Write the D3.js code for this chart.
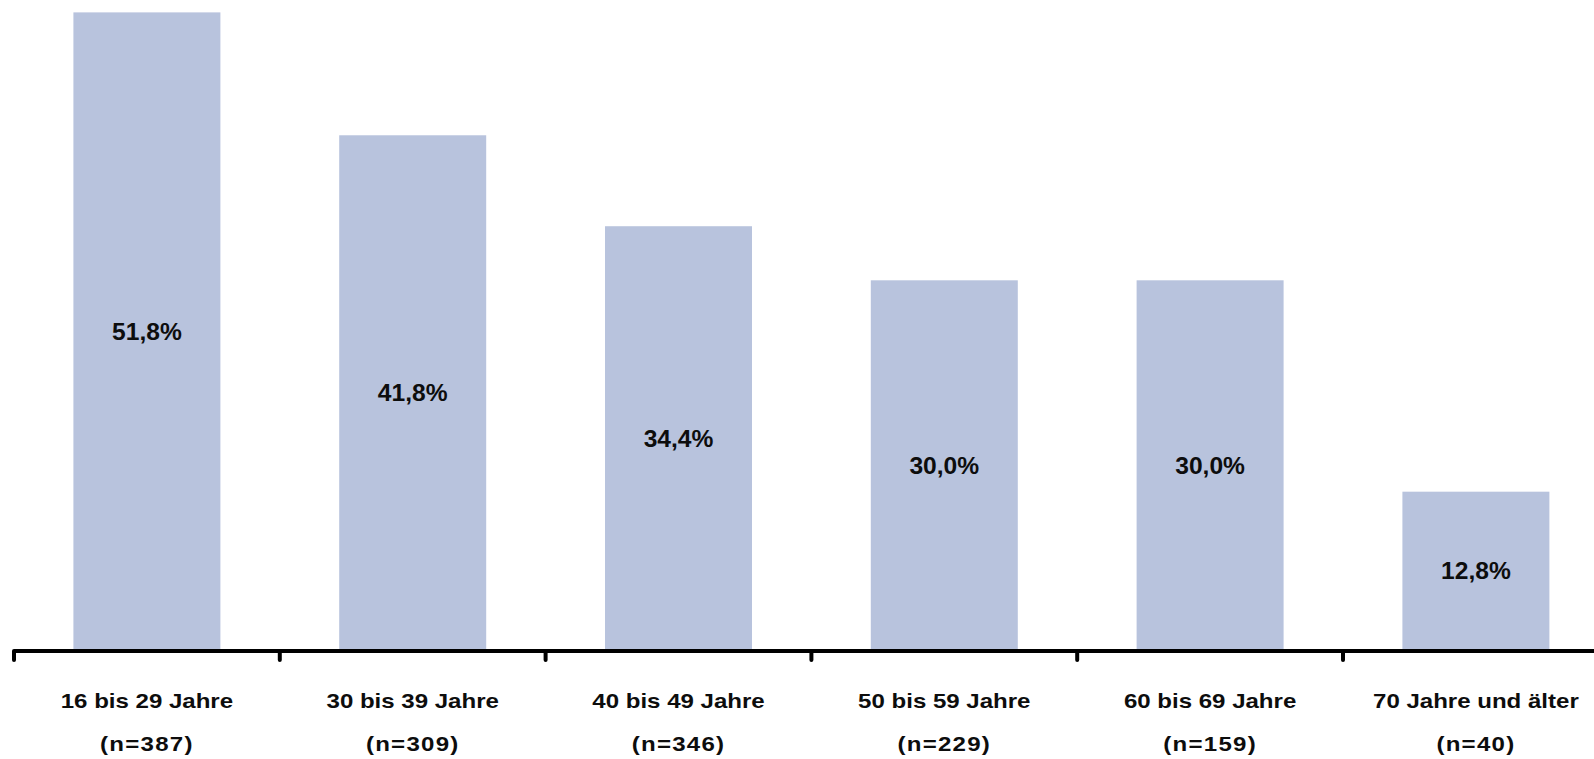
<!DOCTYPE html>
<html>
<head>
<meta charset="utf-8">
<script src="https://cdn.jsdelivr.net/npm/d3@7/dist/d3.min.js"></script>
<style>
  html, body { margin: 0; padding: 0; background: #fff; }
  svg { display: block; }
</style>
</head>
<body>
<svg id="chart" width="1594" height="759"></svg>
<script>
const categories = ["16 bis 29 Jahre", "30 bis 39 Jahre", "40 bis 49 Jahre", "50 bis 59 Jahre", "60 bis 69 Jahre", "70 Jahre und älter"];
const sampleSizes = ["(n=387)", "(n=309)", "(n=346)", "(n=229)", "(n=159)", "(n=40)"];
const values = [51.8, 41.8, 34.4, 30.0, 30.0, 12.8];
const valueLabels = ["51,8%", "41,8%", "34,4%", "30,0%", "30,0%", "12,8%"];

const svg = d3.select("#chart");
const left = 14, stepW = 265.8;
const baseline = 649;
const pxPerUnit = 12.29;
const FONT = "Liberation Sans, Arial, sans-serif";

const x = d3.scaleBand()
  .domain(categories)
  .range([left, left + stepW * categories.length])
  .paddingInner(0.447)
  .paddingOuter(0.2235);

const y = d3.scaleLinear()
  .domain([0, 51.8])
  .range([baseline, baseline - 51.8 * pxPerUnit]);

const data = categories.map((c, i) => ({ c, v: values[i], lab: valueLabels[i], n: sampleSizes[i] }));
const cx = d => x(d.c) + x.bandwidth() / 2;

// bars
svg.append("g").selectAll("rect").data(data).join("rect")
  .attr("x", d => x(d.c))
  .attr("y", d => y(d.v))
  .attr("width", x.bandwidth())
  .attr("height", d => y(0) - y(d.v))
  .attr("fill", "#b8c3dd");

// value labels
svg.append("g").selectAll("text").data(data).join("text")
  .attr("transform", d => `translate(${cx(d)},${(y(d.v) + y(0)) / 2 + 9}) scale(1.07,1)`)
  .attr("text-anchor", "middle")
  .attr("font-family", FONT)
  .attr("font-weight", "bold")
  .attr("font-size", 23)
  .attr("fill", "#0d0d0d")
  .text(d => d.lab);

// axis line
const axisY = 651;
svg.append("line")
  .attr("x1", left).attr("x2", 1600)
  .attr("y1", axisY).attr("y2", axisY)
  .attr("stroke", "#000").attr("stroke-width", 4);

// ticks at band boundaries
const tickXs = categories.map(c => x(c) - x.step() * x.paddingInner() / 2);
tickXs.push(x.range()[1]);
svg.append("g").selectAll("line").data(tickXs).join("line")
  .attr("x1", d => d).attr("x2", d => d)
  .attr("y1", axisY).attr("y2", 660)
  .attr("stroke", "#000").attr("stroke-width", 4)
  .attr("stroke-linecap", "round");

// category labels
const catG = svg.append("g");
catG.selectAll("text.cat").data(data).join("text")
  .attr("class", "cat")
  .attr("transform", d => `translate(${cx(d)},708) scale(1.145,1)`)
  .attr("text-anchor", "middle")
  .attr("font-family", FONT)
  .attr("font-weight", "bold")
  .attr("font-size", 21)
  .attr("fill", "#0d0d0d")
  .text(d => d.c);
catG.selectAll("text.n").data(data).join("text")
  .attr("class", "n")
  .attr("transform", d => `translate(${cx(d)},751) scale(1.145,1)`)
  .attr("text-anchor", "middle")
  .attr("font-family", FONT)
  .attr("font-weight", "bold")
  .attr("font-size", 21)
  .attr("letter-spacing", 1.1)
  .attr("fill", "#0d0d0d")
  .text(d => d.n);
</script>
</body>
</html>
